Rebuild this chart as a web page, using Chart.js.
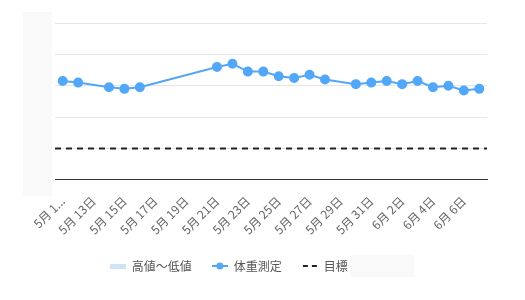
<!DOCTYPE html>
<html>
<head>
<meta charset="utf-8">
<script src="https://cdn.jsdelivr.net/npm/chart.js@4.4.0/dist/chart.umd.min.js"></script>
<style>
  body { margin: 0; background: #fff; }
  #wrap { width: 525px; height: 300px; }
</style>
</head>
<body>
<div id="wrap"><canvas id="myChart"></canvas></div>
<script>
// 5/11 - 6/7
var dayLabels = ['5月 11日', '5月 12日', '5月 13日', '5月 14日', '5月 15日', '5月 16日', '5月 17日',
    '5月 18日', '5月 19日', '5月 20日', '5月 21日', '5月 22日', '5月 23日', '5月 24日',
    '5月 25日', '5月 26日', '5月 27日', '5月 28日', '5月 29日', '5月 30日', '5月 31日',
    '6月 1日', '6月 2日', '6月 3日', '6月 4日', '6月 5日', '6月 6日', '6月 7日'];
var weights = [66.3, 66.2, null, 65.9, 65.8, 65.9, null, null, null, null, 67.2, 67.4, 66.9, 66.9,
    66.6, 66.5, 66.7, 66.4, null, 66.1, 66.2, 66.3, 66.1, 66.3, 65.9, 66.0, 65.7, 65.8];
var highLow = [];   // no ranges recorded
var goal = 62;

var blue = '#52a7f8';
var font = '"Noto Sans CJK JP", "Noto Sans", sans-serif';

function legendIcon(draw) {
    var c = document.createElement('canvas');
    c.width = 16;
    c.height = 10;
    draw(c.getContext('2d'));
    return c;
}
var icons = [
    legendIcon(function (ctx) {
        ctx.fillStyle = '#cfe3f8';
        ctx.fillRect(0, 3, 16, 5);
    }),
    legendIcon(function (ctx) {
        ctx.strokeStyle = blue;
        ctx.lineWidth = 2;
        ctx.beginPath(); ctx.moveTo(0, 5); ctx.lineTo(16, 5); ctx.stroke();
        ctx.fillStyle = blue;
        ctx.beginPath(); ctx.arc(8, 5, 3.5, 0, Math.PI * 2); ctx.fill();
    }),
    legendIcon(function (ctx) {
        ctx.fillStyle = '#222';
        ctx.fillRect(1, 4, 5, 2);
        ctx.fillRect(10, 4, 5, 2);
    })
];

// light boxes over the y labels and the goal value (hidden in the original)
var coverPlugin = {
    id: 'cover',
    afterDraw: function (chart) {
        var ctx = chart.ctx;
        var area = chart.chartArea;
        ctx.save();
        ctx.fillStyle = '#f9f9fa';
        ctx.fillRect(area.left - 32, area.top - 11, 29, area.bottom - area.top + 27);
        var boxes = chart.legend.legendHitBoxes;
        if (boxes && boxes[2]) {
            var b = boxes[2];
            var textLeft = b.left + 16 + 6;
            ctx.fillRect(textLeft + 26, b.top - 5, 64, 22);
        }
        ctx.restore();
    }
};

var config = {
    data: {
        labels: dayLabels,
        datasets: [{
            type: 'bar',
            label: '高値〜低値',
            data: highLow,
            backgroundColor: '#cfe3f8'
        }, {
            type: 'line',
            label: '体重測定',
            data: weights,
            borderColor: blue,
            backgroundColor: blue,
            borderWidth: 2,
            pointRadius: 4,
            pointHoverRadius: 4,
            spanGaps: true
        }, {
            type: 'line',
            label: '目標 62kg',
            xAxisID: 'xGoal',
            data: [{ x: 0, y: goal }, { x: 1, y: goal }],
            borderColor: '#222',
            borderWidth: 2,
            borderDash: [6, 5],
            pointRadius: 0
        }]
    },
    options: {
        responsive: true,
        maintainAspectRatio: false,
        animation: false,
        layout: {
            padding: { top: 23, right: 38, left: 0, bottom: 18 }
        },
        plugins: {
            tooltip: { enabled: false },
            legend: {
                position: 'bottom',
                labels: {
                    usePointStyle: true,
                    pointStyleWidth: 16,
                    padding: 20,
                    color: '#555',
                    font: { family: font, size: 12 },
                    generateLabels: function (chart) {
                        var items = Chart.defaults.plugins.legend.labels.generateLabels(chart);
                        items.forEach(function (item, i) {
                            item.pointStyle = icons[i];
                        });
                        return items;
                    }
                }
            }
        },
        scales: {
            x: {
                offset: true,
                afterFit: function (scale) { scale.height -= 3; },
                grid: { display: false },
                border: { color: '#333', width: 1 },
                ticks: {
                    autoSkip: false,
                    minRotation: 45,
                    maxRotation: 45,
                    padding: 6,
                    color: '#666',
                    font: { family: font, size: 12 },
                    callback: function (value, index) {
                        if (index % 2 === 1) return null;
                        var text = this.getLabelForValue(value);
                        if (index === 0) return text.slice(0, 4) + '...';
                        return text;
                    }
                }
            },
            xGoal: {
                type: 'linear',
                display: false,
                min: 0,
                max: 1
            },
            y: {
                min: 60,
                max: 70,
                afterFit: function (scale) { scale.width = 55; },
                grid: { color: '#e6e6e6', drawTicks: false },
                border: { display: false },
                ticks: {
                    stepSize: 2,
                    color: '#666',
                    font: { family: font, size: 11 }
                }
            }
        }
    },
    plugins: [coverPlugin]
};

var myChart = new Chart(document.getElementById('myChart'), config);
</script>
</body>
</html>
